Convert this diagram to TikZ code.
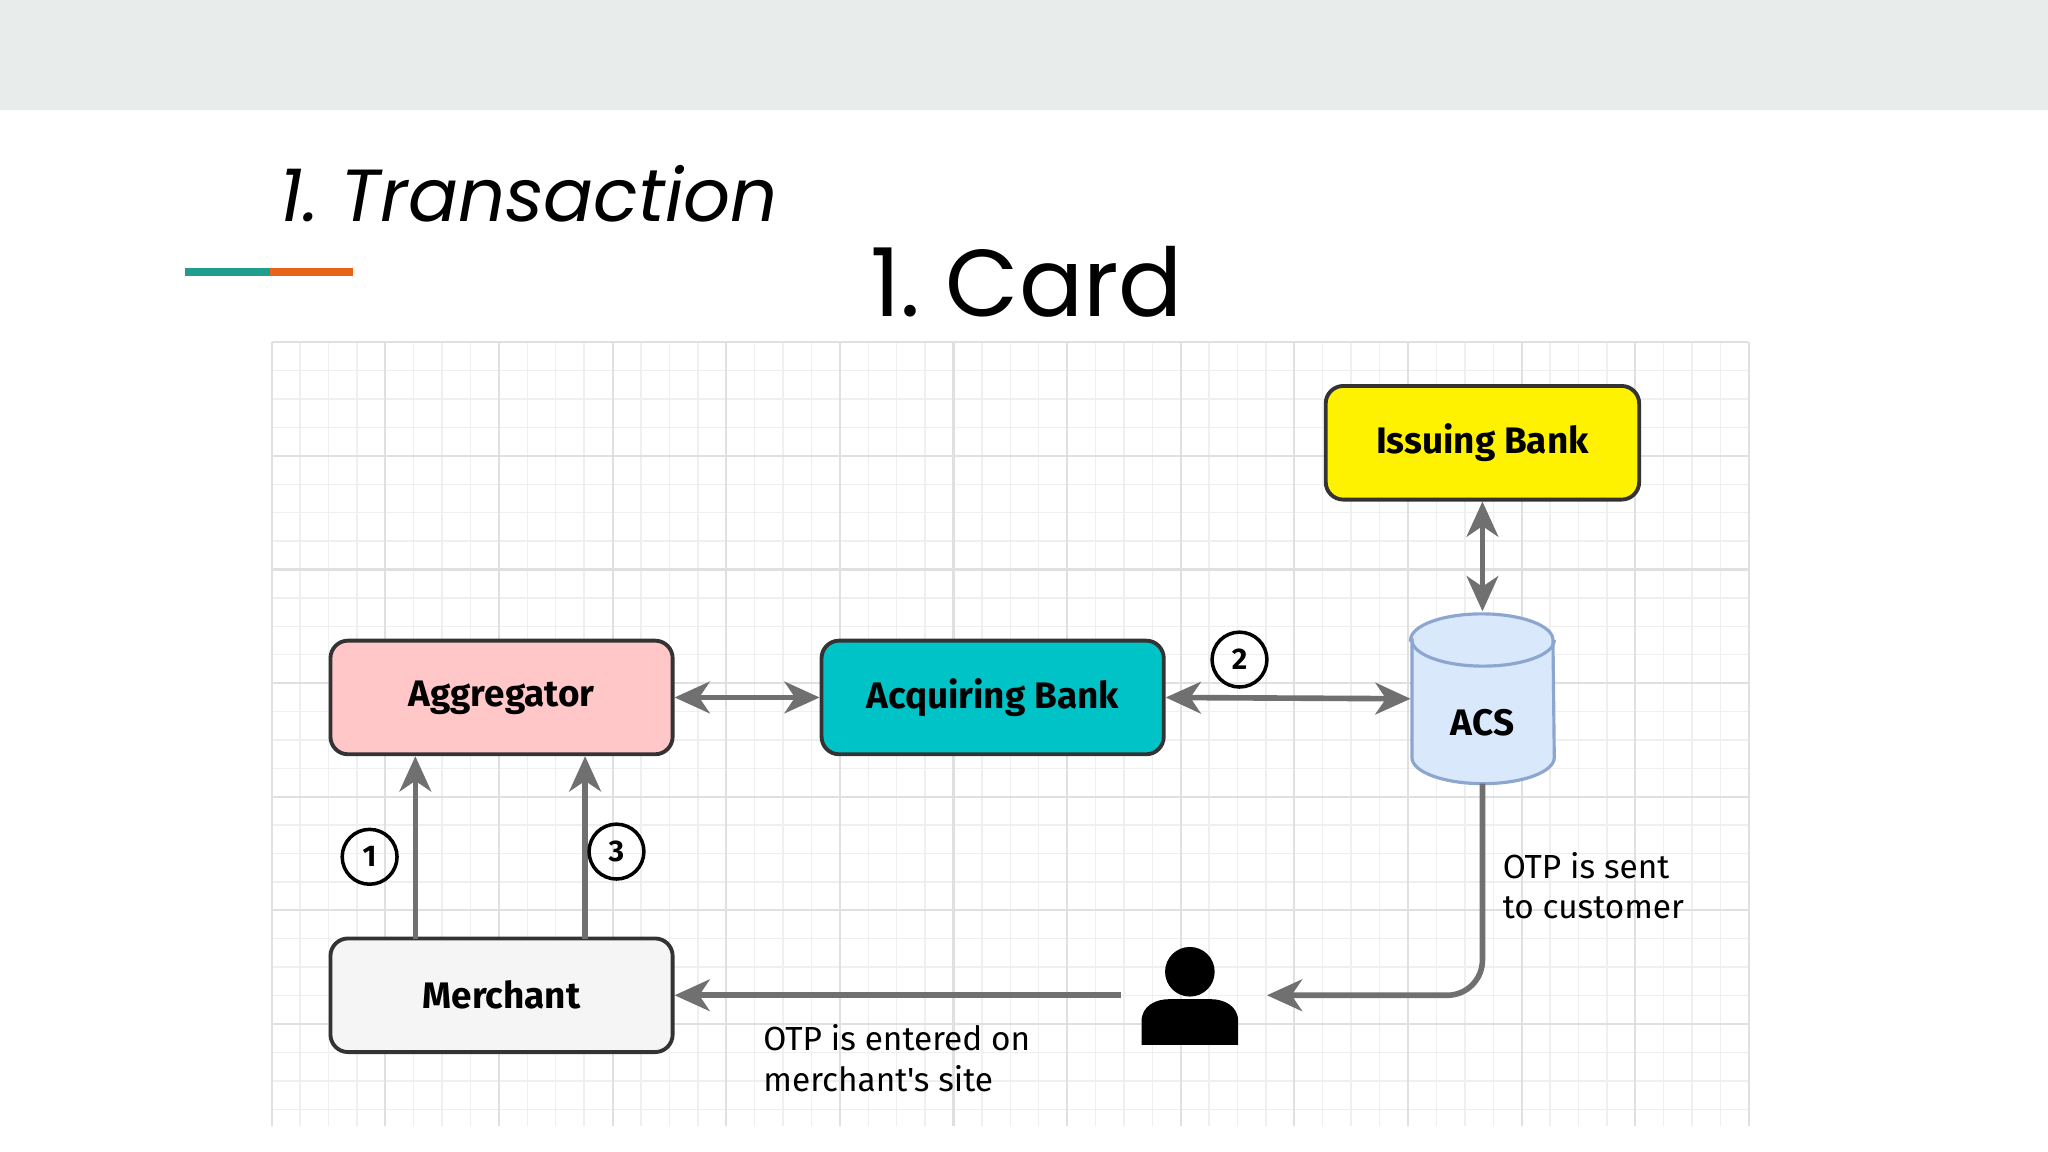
\documentclass[tikz,border=0pt]{standalone}
\usepackage{fontspec}
\setmainfont{Poppins}
\newfontfamily\boxf{Fira Sans}
\usetikzlibrary{shapes.geometric,arrows.meta}
\definecolor{barg}{HTML}{E8ECEA}
\definecolor{teal1}{HTML}{1F9E8E}
\definecolor{orng}{HTML}{E8621A}
\definecolor{gridc}{HTML}{EFEFEF}
\definecolor{gridm}{HTML}{E0E0E0}
\definecolor{arr}{HTML}{707070}
\definecolor{acq}{HTML}{00C3C8}
\definecolor{acsf}{HTML}{DAE8FC}
\definecolor{acsd}{HTML}{8CA6D0}
\begin{document}
\begin{tikzpicture}[x=0.013061cm,y=-0.013061cm,
  box/.style={draw=black!80,line width=1.1pt,rounded corners=5pt,minimum width=262*0.013061cm,minimum height=87*0.013061cm,font=\boxf\bfseries\fontsize{10.5}{12}\selectfont},
  con/.style={draw=arr,line width=1.6pt,-{Stealth[length=10pt,width=9pt,inset=3pt]}},
  bi/.style={draw=arr,line width=1.6pt,{Stealth[length=10pt,width=9pt,inset=3pt]}-{Stealth[length=10pt,width=9pt,inset=3pt]}},
  num/.style={circle,draw=black,line width=1pt,minimum size=42*0.013061cm,inner sep=0pt,font=\boxf\bfseries\fontsize{8.5}{10}\selectfont},
  lbl/.style={align=left,anchor=north west,font=\boxf\fontsize{9.5}{11.5}\selectfont,inner sep=0pt}]
\useasboundingbox (0,0) rectangle (1568,882);
\fill[white] (0,0) rectangle (1568,882);
\fill[barg] (0,0) rectangle (1568,84);
\node[font=\itshape\fontsize{21}{25}\selectfont] (t) at (405,148) {1.\ Transaction};
\fill[teal1] (142,205) rectangle (207,211);
\fill[orng] (207,205) rectangle (270,211);
\node[font=\fontsize{27}{32}\selectfont] (c) at (786,216) {1.\ Card};
% grid
\foreach \i in {0,...,52} {\draw[gridc,line width=0.4pt] (208+\i*21.75,262) -- (208+\i*21.75,862);}
\foreach \i in {0,...,27} {\draw[gridc,line width=0.4pt] (208,262+\i*21.75) -- (1338,262+\i*21.75);}
\foreach \i in {0,...,13} {\draw[gridm,line width=0.6pt] (208+\i*87,262) -- (208+\i*87,862);}
\foreach \i in {0,...,6} {\draw[gridm,line width=0.6pt] (208,262+\i*87) -- (1338,262+\i*87);}
% nodes
\node[box,fill=yellow,minimum width=240*0.013061cm] (ib) at (1135,339) {Issuing Bank};
\node[box,fill=red!22] (ag) at (384,534) {Aggregator};
\node[box,fill=acq] (aq) at (760,534) {Acquiring Bank};
\node[box,fill=black!4] (me) at (384,762) {Merchant};
% ACS cylinder
\node[minimum width=109*0.013061cm,minimum height=130*0.013061cm,inner sep=0pt] (acs) at (1135,535) {};
\filldraw[fill=acsf,draw=acsd,line width=0.9pt] (1081,490) -- (1081,580) arc[start angle=180,end angle=360,x radius=54.5,y radius=-20] -- (1189,490) arc[start angle=0,end angle=180,x radius=54.5,y radius=-20] -- cycle;
\draw[acsd,line width=0.9pt] (1081,490) arc[start angle=180,end angle=360,x radius=54.5,y radius=-20];
\node[font=\boxf\bfseries\fontsize{10.5}{12}\selectfont] (acst) at (1135,553) {ACS};
% person
\fill (911,744) circle (19);
\fill (874,800) -- (874,782) .. controls (874,770) and (885,765) .. (895,765) -- (927,765) .. controls (937,765) and (948,770) .. (948,782) -- (948,800) -- cycle;
\coordinate (pr) at (970,762);
\coordinate (pl) at (858,762);
\coordinate (m1) at (318,719);
\coordinate (a1) at (318,579);
\coordinate (m3) at (448,719);
\coordinate (a3) at (448,579);
\coordinate (acsb) at (1135,600);
\coordinate (acstop) at (1135,468);
% connectors
\draw[bi] (ag) -- (aq);
\draw[bi] (aq.east) -- (acs.west);
\draw[bi] (ib) -- (acstop);
\draw[con] (m1) -- (a1);
\draw[con] (m3) -- (a3);
\draw[con,rounded corners=10pt] (acsb) |- (pr);
\draw[con] (pl) -- (me);
\node[num] (n1) at (283,656) {1};
\node[num] (n3) at (472,652) {3};
\node[num] (n2) at (949,505) {2};
\node[lbl] (l1) at (1150,652) {OTP is sent\\to customer};
\node[lbl] (l2) at (584,784) {OTP is entered on\\merchant's site};
\end{tikzpicture}
\end{document}
